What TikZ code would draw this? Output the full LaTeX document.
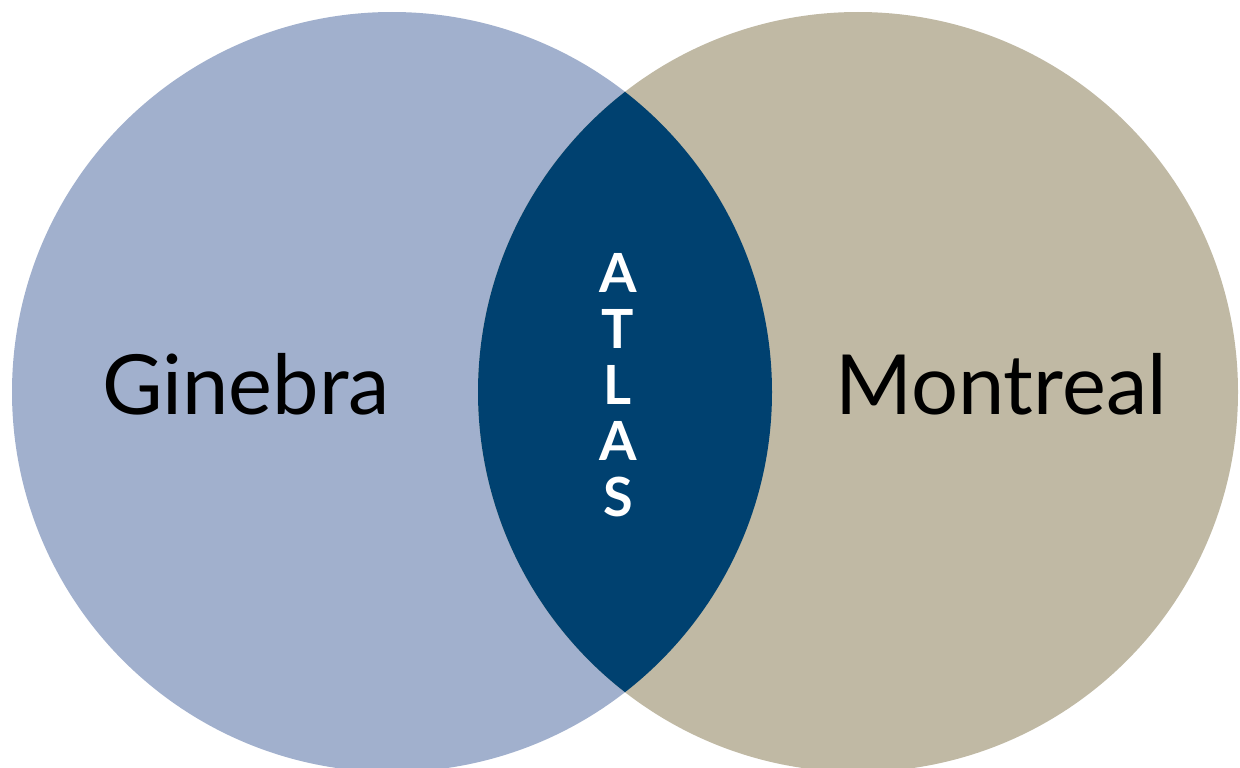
\documentclass[tikz,border=0pt]{standalone}
\usepackage{fontspec}
\setmainfont{Lato}
\usepackage{xcolor}
\definecolor{ginebrablue}{HTML}{A1B0CD}
\definecolor{montrealsand}{HTML}{C0B9A4}
\definecolor{atlasblue}{HTML}{004170}
\tikzset{
	city/.style={font=\fontsize{83}{88}\selectfont, text=black, inner sep=0pt, anchor=base},
	letter/.style={font=\fontsize{54}{58}\selectfont\bfseries, text=white, inner sep=0pt, anchor=base}
}

\begin{document}
\begin{tikzpicture}[x=1pt,y=-1pt]
	\useasboundingbox (0,0) rectangle (1240,768);
	\coordinate (gc) at (392,392);
	\coordinate (mc) at (858,392);

	\fill[ginebrablue] (gc) circle (380pt);
	\fill[montrealsand] (mc) circle (380pt);
	\begin{scope}
		\clip (gc) circle (380pt);
		\fill[atlasblue] (mc) circle (380pt);
	\end{scope}

	\node[city] (ginebra) at (246,414) {Ginebra};
	\node[city] (montreal) at (1001,414) {Montreal};

	\foreach \l [count=\i] in {A,T,L,A,S}
		\node[letter] (atlas\i) at (618,292+56*\i-56) {\l};

\end{tikzpicture}
\end{document}
